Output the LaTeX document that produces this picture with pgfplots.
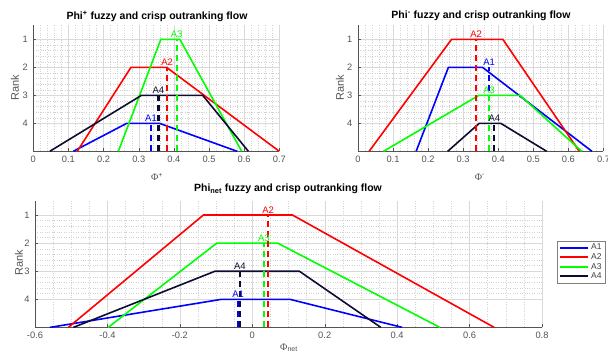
\documentclass[border=0pt]{standalone}
\usepackage{fontspec}
\setmainfont{Liberation Sans}
\newfontfamily\seriffont{Liberation Serif}
\usepackage{pgfplots}
\pgfplotsset{compat=1.18}
\definecolor{cA1}{rgb}{0,0,1}
\definecolor{cA2}{rgb}{1,0,0}
\definecolor{cA3}{rgb}{0,1,0}
\definecolor{cA4}{rgb}{0.05,0.05,0.2}
\definecolor{tickgray}{rgb}{0.33,0.33,0.33}
\tikzset{
  fz/.style={line width=1.6pt},
  cr/.style={line width=2.2pt, dash pattern=on 6pt off 4pt},
  lb/.style={anchor=south, inner sep=1.5pt, font=\fontsize{9.5}{10}\selectfont},
}
\pgfplotsset{
  base/.style={
    scale only axis,
    y dir=reverse,
    ymin=0.5, ymax=5,
    ytick={1,2,3,4},
    minor y tick num=4,
    grid=both,
    major grid style={gray!30, line width=0.4pt},
    minor grid style={gray!35, dotted, line width=0.4pt},
    axis line style={draw=none},
    tick style={tickgray, line width=0.4pt},
    major tick length=3pt,
    minor tick length=0pt,
    tick align=inside,
    xtick pos=left, ytick pos=left,
    /pgf/number format/assume math mode=true,
    /pgf/number format/fixed,
    ticklabel style={font=\fontsize{9.3}{10}\selectfont, text=tickgray},
    xticklabel style={yshift=-1pt},
    yticklabel style={xshift=-2pt},
    clip mode=individual,
  },
}
\begin{document}
\begin{tikzpicture}[x=1pt,y=1pt]
\useasboundingbox (0,0) rectangle (608,354);

% ---------- Phi+ ----------
\begin{axis}[base, at={(33.3pt,202.7pt)}, anchor=south west,
  width=246pt, height=126pt,
  xmin=0, xmax=0.7, xtick={0,0.1,...,0.7}, minor x tick num=4]
\draw[tickgray, line width=0.5pt] (axis description cs:0,1) -- (axis description cs:0,0) -- (axis description cs:1,0);
\addplot[fz, cA1] coordinates {(0.114,5) (0.266,4) (0.359,4) (0.580,5)};
\addplot[fz, cA2] coordinates {(0.125,5) (0.278,2) (0.379,2) (0.700,5)};
\addplot[fz, cA3] coordinates {(0.242,5) (0.363,1) (0.417,1) (0.593,5)};
\addplot[fz, cA4] coordinates {(0.047,5) (0.308,3) (0.482,3) (0.612,5)};
\addplot[cr, cA1] coordinates {(0.335,5) (0.335,4)};
\addplot[cr, cA2] coordinates {(0.381,5) (0.381,2)};
\addplot[cr, cA3] coordinates {(0.408,5) (0.408,1)};
\addplot[cr, cA4] coordinates {(0.356,5) (0.356,3)};
\node[lb, text=cA1] at (axis cs:0.335,4) {A1};
\node[lb, text=cA2] at (axis cs:0.381,2) {A2};
\node[lb, text=cA3] at (axis cs:0.408,1) {A3};
\node[lb, text=cA4] at (axis cs:0.356,3) {A4};
\end{axis}

% ---------- Phi- ----------
\begin{axis}[base, at={(357.9pt,202.7pt)}, anchor=south west,
  width=245.6pt, height=126pt,
  xmin=0, xmax=0.7, xtick={0,0.1,...,0.7}, minor x tick num=4]
\draw[tickgray, line width=0.5pt] (axis description cs:0,1) -- (axis description cs:0,0) -- (axis description cs:1,0);
\addplot[fz, cA1] coordinates {(0.166,5) (0.258,2) (0.355,2) (0.667,5)};
\addplot[fz, cA2] coordinates {(0.032,5) (0.267,1) (0.413,1) (0.631,5)};
\addplot[fz, cA3] coordinates {(0.073,5) (0.345,3) (0.462,3) (0.638,5)};
\addplot[fz, cA4] coordinates {(0.256,5) (0.346,4) (0.407,4) (0.538,5)};
\addplot[cr, cA1] coordinates {(0.374,5) (0.374,2)};
\addplot[cr, cA2] coordinates {(0.337,5) (0.337,1)};
\addplot[cr, cA3] coordinates {(0.374,5) (0.374,3)};
\addplot[cr, cA4] coordinates {(0.389,5) (0.389,4)};
\node[lb, text=cA1] at (axis cs:0.374,2) {A1};
\node[lb, text=cA2] at (axis cs:0.337,1) {A2};
\node[lb, text=cA3] at (axis cs:0.374,3) {A3};
\node[lb, text=cA4] at (axis cs:0.389,4) {A4};
\end{axis}

% ---------- Phi net ----------
\begin{axis}[base, at={(35pt,26.6pt)}, anchor=south west,
  width=507pt, height=126.4pt,
  xmin=-0.6, xmax=0.8, xtick={-0.6,-0.4,...,0.8}, minor x tick num=3,
  legend cell align=left,
  legend style={at={(1.0296,0.686)}, anchor=north west,
    draw=gray, fill=white,
    font=\fontsize{8.5}{9}\selectfont, text=black!75,
    inner xsep=2pt, inner ysep=1pt, row sep=-1.8pt},
  legend image code/.code={\draw[#1, line width=2pt, solid] (0pt,0pt) -- (28pt,0pt);}]
\draw[tickgray, line width=0.5pt] (axis description cs:0,1) -- (axis description cs:0,0) -- (axis description cs:1,0);
\addplot[fz, cA1] coordinates {(-0.559,5) (-0.085,4) (0.104,4) (0.414,5)};
\addlegendentry{A1}
\addplot[fz, cA2] coordinates {(-0.508,5) (-0.135,1) (0.111,1) (0.668,5)};
\addlegendentry{A2}
\addplot[fz, cA3] coordinates {(-0.398,5) (-0.098,2) (0.070,2) (0.518,5)};
\addlegendentry{A3}
\addplot[fz, cA4] coordinates {(-0.494,5) (-0.103,3) (0.130,3) (0.355,5)};
\addlegendentry{A4}
\addplot[cr, cA1, forget plot] coordinates {(-0.039,5) (-0.039,4)};
\addplot[cr, cA2, forget plot] coordinates {(0.044,5) (0.044,1)};
\addplot[cr, cA3, forget plot] coordinates {(0.032,5) (0.032,2)};
\addplot[cr, cA4, forget plot] coordinates {(-0.034,5) (-0.034,3)};
\node[lb, text=cA1] at (axis cs:-0.039,4) {A1};
\node[lb, text=cA2] at (axis cs:0.044,1) {A2};
\node[lb, text=cA3] at (axis cs:0.032,2) {A3};
\node[lb, text=cA4] at (axis cs:-0.034,3) {A4};
\end{axis}

% ---------- titles and labels ----------
\node[font=\bfseries\fontsize{10.5}{11}\selectfont] at (157,338) {Phi\textsuperscript{+} fuzzy and crisp outranking flow};
\node[font=\bfseries\fontsize{10.5}{11}\selectfont] at (481,338) {Phi\textsuperscript{-} fuzzy and crisp outranking flow};
\node[font=\bfseries\fontsize{10.5}{11}\selectfont] at (288,165) {Phi\textsubscript{net} fuzzy and crisp outranking flow};
\node[text=tickgray, font=\fontsize{10}{11}\selectfont] at (157,177) {{\seriffont Φ}\textsuperscript{+}};
\node[text=tickgray, font=\fontsize{10}{11}\selectfont] at (480,177) {{\seriffont Φ}\textsuperscript{-}};
\node[text=tickgray, font=\fontsize{10}{11}\selectfont, anchor=base] at (289,4) {{\seriffont Φ}\textsubscript{net}};
\node[text=tickgray, rotate=90, font=\fontsize{11}{12}\selectfont] at (15,266) {Rank};
\node[text=tickgray, rotate=90, font=\fontsize{11}{12}\selectfont] at (340,266) {Rank};
\node[text=tickgray, rotate=90, font=\fontsize{11}{12}\selectfont] at (19,91) {Rank};
\end{tikzpicture}
\end{document}
